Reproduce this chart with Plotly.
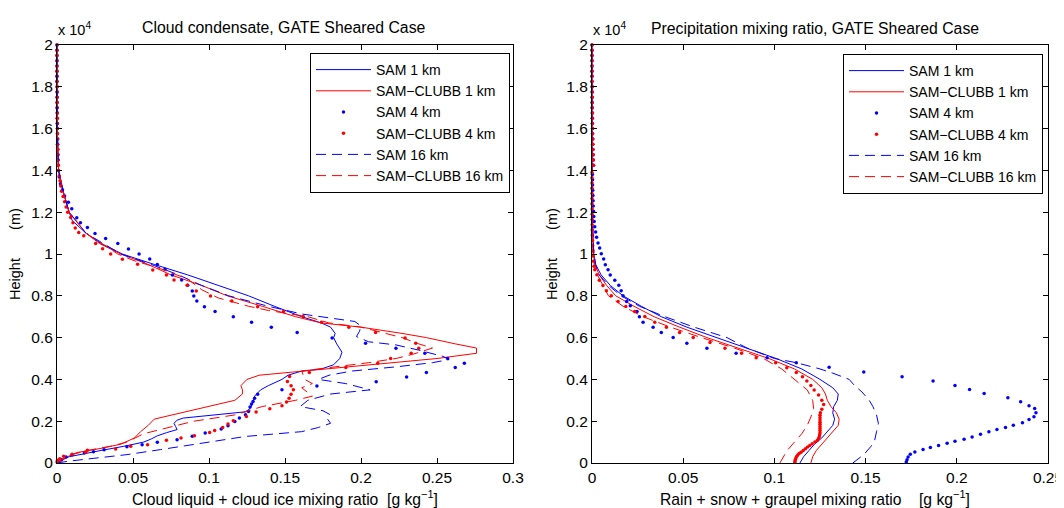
import plotly.graph_objects as go

# The page places the figure 8 px in from the top-left corner, so the figure is
# sized to the visible area and layout positions are given in window pixels.
OFF = 8
W, H = 1064 - OFF, 508 - OFF
FONT = "Liberation Sans, Arial, Helvetica, sans-serif"
BLUE = "#0000ff"
RED = "#ff0000"


def fx(p):
    return (p - OFF) / W


def fy(p):
    return 1 - (p - OFF) / H


# ---------------- tick labels ----------------
Y_TICKS = [0, 2000, 4000, 6000, 8000, 10000, 12000, 14000, 16000, 18000, 20000]
Y_LABELS = ["0", "0.2", "0.4", "0.6", "0.8", "1", "1.2", "1.4", "1.6", "1.8", "2"]
X1_TICKS = [0, 0.05, 0.1, 0.15, 0.2, 0.25, 0.3]
X1_LABELS = ["0", "0.05", "0.1", "0.15", "0.2", "0.25", "0.3"]
X2_TICKS = [0, 0.05, 0.1, 0.15, 0.2, 0.25]
X2_LABELS = ["0", "0.05", "0.1", "0.15", "0.2", "0.25"]

NAMES = ["SAM 1 km", "SAM\u2212CLUBB 1 km", "SAM 4 km", "SAM\u2212CLUBB 4 km",
         "SAM 16 km", "SAM\u2212CLUBB 16 km"]

# upper-level heights shared by dotted (4 km) series
TOP_H = [14250, 14500, 14750, 15000, 15250, 15500, 15750, 16000, 16250, 16500, 16750, 17000,
         17250, 17500, 17750, 18000, 18250, 18500, 18750, 19000, 19250, 19500, 19750, 20000]
TOP_V = [0.0008, 0.0007, 0.0006, 0.0005, 0.0004, 0.0004, 0.0003, 0.0003, 0.0002, 0.0002, 0.0002, 0.0001,
         0.0001, 0.0001, 0.0001, 0.0001, 0.0, 0.0, 0.0, 0.0, 0.0, 0.0, 0.0, 0.0]

# ---------------- left panel: cloud condensate ----------------
L_SAM1_H = [0, 150, 300, 450, 600, 800, 1000, 1150, 1300, 1450, 1600, 1750, 1900, 2050, 2150, 2450, 2600,
            2900, 3200, 3350, 3500, 3700, 4000, 4200, 4400, 4500, 4700, 5000, 5300, 5700, 6000, 6200,
            6500, 6700, 7000, 7500, 8000, 8500, 9000, 9500, 10000, 10500, 11000, 11600, 12000, 13000,
            14000, 15000, 16000, 20000]
L_SAM1_V = [0, 0.003, 0.008, 0.018, 0.029, 0.044, 0.057, 0.062, 0.066, 0.072, 0.079, 0.078, 0.077, 0.079,
            0.083, 0.124, 0.127, 0.129, 0.130, 0.132, 0.134, 0.139, 0.148, 0.152, 0.161, 0.174, 0.182,
            0.186, 0.1875, 0.184, 0.182, 0.183, 0.180, 0.174, 0.161, 0.143, 0.126, 0.106, 0.086, 0.064,
            0.043, 0.029, 0.019, 0.010, 0.008, 0.004, 0.001, 0.0005, 0.0002, 0]

L_CLUBB1_H = [0, 300, 500, 700, 900, 1200, 1500, 1800, 2100, 2400, 2700, 3000, 3300, 3500, 3700, 4000,
              4200, 4400, 4600, 4800, 5000, 5250, 5500, 5700, 6000, 6200, 6500, 6700, 7000, 7500, 8000,
              8500, 9000, 9500, 10000, 10500, 11000, 12000, 13000, 14000, 16000, 20000]
L_CLUBB1_V = [0.001, 0.007, 0.013, 0.029, 0.042, 0.051, 0.055, 0.060, 0.064, 0.081, 0.099, 0.117, 0.122,
              0.122, 0.121, 0.125, 0.133, 0.161, 0.194, 0.218, 0.250, 0.276, 0.276, 0.262, 0.243, 0.227,
              0.200, 0.174, 0.157, 0.135, 0.112, 0.095, 0.075, 0.060, 0.042, 0.028, 0.019, 0.008, 0.004,
              0.001, 0.0002, 0]

L_SAM4_H = [48, 159, 287, 398, 478, 541, 637, 780, 876, 987, 1115, 1274, 1433, 1624, 1783, 1990, 2150,
            2310, 2470, 2675, 2820, 2945, 3100, 3295, 3500, 3690, 3885, 4110, 4330, 4570, 4775, 5000,
            5250, 5490, 5730, 5985, 6240, 6500, 6735, 7000, 7245, 7480, 7750, 7990, 8230, 8500, 8755,
            9000, 9265, 9500, 9760, 10000, 10240, 10500, 10745, 10985, 11270, 11490, 11730, 12160,
            12480, 12780, 13070, 13360, 13680, 14000] + TOP_H
L_SAM4_V = [0.001, 0.003, 0.006, 0.010, 0.018, 0.024, 0.031, 0.046, 0.056, 0.066, 0.079, 0.089, 0.0975,
            0.108, 0.1125, 0.117, 0.120, 0.124, 0.126, 0.127, 0.128, 0.129, 0.130, 0.132, 0.148, 0.171,
            0.210, 0.230, 0.243, 0.262, 0.268, 0.257, 0.242, 0.223, 0.203, 0.181, 0.158, 0.141, 0.128,
            0.116, 0.104, 0.097, 0.092, 0.090, 0.089, 0.086, 0.082, 0.076, 0.071, 0.066, 0.061, 0.054,
            0.047, 0.040, 0.032, 0.025, 0.020, 0.0154, 0.013, 0.0097, 0.0075, 0.005, 0.0036, 0.0023,
            0.0015, 0.001] + TOP_V

L_CLUBB4_H = [48, 127, 207, 318, 414, 509, 605, 669, 796, 876, 1083, 1194, 1305, 1465, 1560, 1703, 1863,
              2022, 2229, 2436, 2590, 2738, 2913, 3104, 3295, 3502, 3693, 3900, 4139, 4330, 4569, 4776,
              4999, 5254, 5492, 5731, 5986, 6241, 6495, 6734, 7005, 7244, 7482, 7753, 7992, 8231, 8501,
              8756, 8995, 9234, 9504, 9743, 9998, 10250, 10507, 10873, 11033, 11250, 11500, 11750,
              12000, 12250, 12500, 12750, 13000, 13250, 13500, 13750, 14000] + TOP_H
L_CLUBB4_V = [0.0, 0.0004, 0.0018, 0.0044, 0.0099, 0.0188, 0.020, 0.0386, 0.0485, 0.0596, 0.072, 0.0816,
              0.0904, 0.1004, 0.1037, 0.109, 0.1125, 0.116, 0.1246, 0.131, 0.140, 0.148, 0.151, 0.1527,
              0.154, 0.1555, 0.154, 0.1516, 0.153, 0.166, 0.190, 0.211, 0.2195, 0.233, 0.238, 0.236,
              0.229, 0.2096, 0.192, 0.174, 0.162, 0.149, 0.132, 0.115, 0.101, 0.0916, 0.0856, 0.077,
              0.072, 0.063, 0.053, 0.043, 0.0353, 0.030, 0.0254, 0.0176, 0.0143, 0.012, 0.0105, 0.009,
              0.007, 0.006, 0.005, 0.004, 0.003, 0.0025, 0.002, 0.0015, 0.001] + TOP_V

L_SAM16_H = [0, 80, 190, 400, 640, 950, 1270, 1500, 1700, 1900, 2100, 2300, 2500, 2700, 3000, 3300, 3500,
             3800, 4000, 4200, 4400, 4600, 4800, 4950, 5100, 5400, 5650, 5800, 6050, 6300, 6550, 6770,
             7000, 7130, 7500, 8000, 8500, 9000, 9500, 10000, 11000, 12000, 13000, 14000, 16000, 20000]
L_SAM16_V = [0, 0.007, 0.020, 0.046, 0.068, 0.095, 0.124, 0.161, 0.172, 0.180, 0.178, 0.180, 0.175, 0.160,
             0.165, 0.180, 0.206, 0.190, 0.172, 0.179, 0.194, 0.223, 0.247, 0.258, 0.254, 0.238, 0.223,
             0.205, 0.197, 0.199, 0.200, 0.196, 0.174, 0.161, 0.139, 0.113, 0.095, 0.080, 0.062, 0.042,
             0.019, 0.008, 0.004, 0.001, 0.0002, 0]

L_CLUBB16_H = [0, 200, 400, 600, 800, 1000, 1400, 1700, 2000, 2300, 2500, 2700, 3000, 3200, 3600, 3800,
               4000, 4400, 4600, 4800, 5000, 5200, 5500, 5700, 6000, 6200, 6500, 6700, 7000, 7300, 7500,
               7900, 8300, 8800, 9300, 9700, 10000, 11000, 12000, 13000, 14000, 16000, 20000]
L_CLUBB16_V = [0, 0.004, 0.010, 0.020, 0.035, 0.046, 0.057, 0.073, 0.090, 0.117, 0.126, 0.135, 0.157,
               0.168, 0.161, 0.168, 0.163, 0.161, 0.183, 0.205, 0.223, 0.234, 0.247, 0.238, 0.227, 0.216,
               0.200, 0.179, 0.165, 0.139, 0.126, 0.106, 0.095, 0.086, 0.068, 0.050, 0.040, 0.019, 0.008,
               0.004, 0.001, 0.0002, 0]

# ---------------- right panel: precipitation ----------------
R_SAM1_H = [0, 300, 600, 900, 1200, 1500, 1800, 2100, 2400, 2700, 3000, 3300, 3600, 4000, 4500, 5000,
            5500, 6000, 6500, 7000, 7500, 8000, 8500, 9000, 9500, 10000, 11000, 12000, 20000]
R_SAM1_V = [0.114, 0.116, 0.119, 0.122, 0.126, 0.129, 0.132, 0.133, 0.132, 0.1325, 0.1345, 0.135, 0.132,
            0.125, 0.115, 0.101, 0.085, 0.068, 0.052, 0.038, 0.027, 0.017, 0.010, 0.005, 0.002, 0.001,
            0.0005, 0, 0]

R_CLUBB1_H = [0, 300, 600, 900, 1200, 1500, 1800, 2100, 2400, 2700, 3000, 3300, 3600, 4000, 4500, 5000,
              5500, 6000, 6500, 7000, 7500, 8000, 8500, 9000, 9500, 10000, 11000, 12000, 20000]
R_CLUBB1_V = [0.120, 0.121, 0.123, 0.126, 0.129, 0.132, 0.135, 0.1355, 0.134, 0.131, 0.129, 0.128, 0.126,
              0.121, 0.111, 0.097, 0.080, 0.063, 0.048, 0.034, 0.023, 0.013, 0.008, 0.004, 0.0015,
              0.0008, 0.0003, 0, 0]

R_SAM4_H = [48, 160, 288, 416, 528, 640, 736, 832, 944, 1040, 1136, 1250, 1380, 1490, 1600, 1700, 1810,
            1920, 2080, 2210, 2400, 2610, 2740, 2930, 3120, 3330, 3520, 3710, 3920, 4130, 4350, 4580,
            4800, 5040, 5250, 5490, 5730, 6000, 6240, 6500, 6740, 7000, 7250, 7520, 7730, 8000, 8240,
            8500, 8740, 8990, 9250, 9490, 9760, 10016, 10290, 10530, 10800, 11050, 11300, 11550, 11800,
            12050, 12300, 12550, 12800, 13050, 13300, 13550, 13800] + TOP_H
R_SAM4_V = [0.1723, 0.1727, 0.1733, 0.1745, 0.177, 0.1815, 0.1855, 0.190, 0.1947, 0.199, 0.204, 0.2084,
            0.213, 0.2176, 0.222, 0.2267, 0.231, 0.236, 0.2396, 0.2423, 0.2434, 0.2427, 0.2396, 0.235,
            0.228, 0.215, 0.207, 0.199, 0.187, 0.170, 0.149, 0.130, 0.112, 0.096, 0.079, 0.063, 0.052,
            0.0445, 0.038, 0.0335, 0.028, 0.026, 0.0247, 0.021, 0.019, 0.017, 0.016, 0.0147, 0.0125,
            0.010, 0.0088, 0.0073, 0.0064, 0.0051, 0.0042, 0.0033, 0.0025, 0.002, 0.0015, 0.0012, 0.001,
            0.0008, 0.0007, 0.0006, 0.0005, 0.0004, 0.0003, 0.0003, 0.0002] + TOP_V

R_CLUBB4_H = [30, 100, 170, 240, 310, 380, 450, 520, 600, 680, 760, 840, 920, 1000, 1080, 1170, 1260,
              1350, 1450, 1550, 1650, 1750, 1850, 1950, 2060, 2170, 2280, 2400, 2576, 2800, 3008, 3248,
              3488, 3712, 3920, 4128, 4336, 4560, 4800, 5040, 5248, 5488, 5760, 6000, 6240, 6496, 6736,
              7008, 7248, 7488, 7728, 8000, 8240, 8496, 8750, 9008, 9250, 9410, 9650, 9900, 10150,
              10400, 10650, 10900, 11150, 11400, 11650, 11900, 12150, 12400, 12650, 12900, 13150, 13400,
              13650, 13900] + TOP_H
R_CLUBB4_V = [0.1112, 0.1113, 0.1115, 0.1118, 0.1122, 0.1128, 0.1136, 0.1146, 0.1158, 0.117, 0.1182,
              0.1194, 0.1207, 0.1222, 0.1235, 0.1242, 0.1246, 0.1248, 0.125, 0.125, 0.125, 0.125, 0.125,
              0.125, 0.125, 0.125, 0.125, 0.1252, 0.126, 0.127, 0.126, 0.1242, 0.1218, 0.120, 0.1178,
              0.1154, 0.112, 0.1068, 0.1007, 0.090, 0.082, 0.0729, 0.0647, 0.0555, 0.048, 0.0408, 0.0344,
              0.029, 0.0234, 0.0185, 0.0143, 0.0106, 0.0079, 0.006, 0.004, 0.0027, 0.0015, 0.0011,
              0.0008, 0.0006, 0.0005, 0.0004, 0.0003, 0.0002, 0.0001, 0.0001, 0.0001, 0.0001, 0.0001,
              0.0, 0.0, 0.0, 0.0, 0.0, 0.0, 0.0] + TOP_V

R_SAM16_H = [0, 400, 800, 1100, 1500, 1900, 2300, 2700, 3000, 3400, 3700, 4000, 4300, 4500, 4800, 5000,
             5500, 6000, 6500, 7000, 7500, 8000, 8500, 9000, 9500, 10000, 11000, 12000, 20000]
R_SAM16_V = [0.143, 0.149, 0.153, 0.155, 0.156, 0.157, 0.156, 0.154, 0.152, 0.148, 0.144, 0.141, 0.132,
             0.125, 0.112, 0.100, 0.085, 0.074, 0.056, 0.040, 0.026, 0.016, 0.009, 0.004, 0.002, 0.001,
             0.0005, 0, 0]

R_CLUBB16_H = [0, 300, 600, 1000, 1400, 1800, 2200, 2600, 3000, 3500, 4000, 4500, 5000, 5500, 6000,
               6500, 7000, 7500, 8000, 8500, 9000, 9500, 10000, 11000, 12000, 20000]
R_CLUBB16_V = [0.103, 0.105, 0.107, 0.111, 0.115, 0.118, 0.120, 0.1215, 0.121, 0.118, 0.111, 0.104,
               0.094, 0.078, 0.060, 0.043, 0.028, 0.017, 0.009, 0.006, 0.003, 0.0012, 0.0005, 0.0002,
               0, 0]

LEFT = [(L_SAM1_V, L_SAM1_H), (L_CLUBB1_V, L_CLUBB1_H), (L_SAM4_V, L_SAM4_H),
        (L_CLUBB4_V, L_CLUBB4_H), (L_SAM16_V, L_SAM16_H), (L_CLUBB16_V, L_CLUBB16_H)]
RIGHT = [(R_SAM1_V, R_SAM1_H), (R_CLUBB1_V, R_CLUBB1_H), (R_SAM4_V, R_SAM4_H),
         (R_CLUBB4_V, R_CLUBB4_H), (R_SAM16_V, R_SAM16_H), (R_CLUBB16_V, R_CLUBB16_H)]
for v, h in LEFT + RIGHT:
    assert len(v) == len(h), (len(v), len(h))

STYLES = [
    dict(mode="lines", line=dict(color=BLUE, width=1)),
    dict(mode="lines", line=dict(color=RED, width=1)),
    dict(mode="markers", marker=dict(color=BLUE, size=3.5)),
    dict(mode="markers", marker=dict(color=RED, size=3.5)),
    dict(mode="lines", line=dict(color=BLUE, width=1, dash="10px,6px")),
    dict(mode="lines", line=dict(color=RED, width=1, dash="10px,6px")),
]

fig = go.Figure()
for (v, h), name, st in zip(LEFT, NAMES, STYLES):
    fig.add_trace(go.Scatter(x=v, y=h, name=name, xaxis="x", yaxis="y", legend="legend",
                             cliponaxis=False, **st))
for (v, h), name, st in zip(RIGHT, NAMES, STYLES):
    fig.add_trace(go.Scatter(x=v, y=h, name=name, xaxis="x2", yaxis="y2", legend="legend2",
                             cliponaxis=False, **st))

ax_common = dict(showline=True, linecolor="black", linewidth=1, mirror="ticks", ticks="inside",
                 ticklen=5, tickcolor="black", tickwidth=1, showgrid=False, zeroline=False,
                 automargin=False,
                 tickfont=dict(family=FONT, size=15.5, color="black"), fixedrange=True)
YDOM = [fy(463), fy(45)]

leg_common = dict(bordercolor="black", borderwidth=1, bgcolor="white", yanchor="top",
                  xanchor="right", font=dict(family=FONT, size=14, color="black"),
                  tracegroupgap=0, itemwidth=55)

fig.update_layout(
    width=W, height=H, autosize=False,
    margin=dict(l=0, r=0, t=0, b=0, pad=0, autoexpand=False),
    paper_bgcolor="white", plot_bgcolor="white",
    font=dict(family=FONT, color="black"),
    xaxis=dict(domain=[fx(57), fx(513)], range=[0, 0.3], tickvals=X1_TICKS, ticktext=X1_LABELS,
               anchor="y", **ax_common),
    yaxis=dict(domain=YDOM, range=[0, 20000], tickvals=Y_TICKS, ticktext=Y_LABELS, anchor="x",
               **ax_common),
    xaxis2=dict(domain=[fx(592), fx(1048)], range=[0, 0.25], tickvals=X2_TICKS, ticktext=X2_LABELS,
                anchor="y2", **ax_common),
    yaxis2=dict(domain=YDOM, range=[0, 20000], tickvals=Y_TICKS, ticktext=Y_LABELS, anchor="x2",
                **ax_common),
    legend=dict(x=fx(510), y=fy(53), **leg_common),
    legend2=dict(x=fx(1043), y=fy(54), **leg_common),
    showlegend=True,
)

NB = "\u00a0"
ann = [
    dict(text="Cloud condensate, GATE Sheared Case", x=fx(284), y=fy(27), size=15.8),
    dict(text="Precipitation mixing ratio, GATE Sheared Case", x=fx(815), y=fy(28), size=15.8),
    dict(text="Cloud liquid + cloud ice mixing ratio" + NB * 2 + "[g kg<sup>\u22121</sup>]",
         x=fx(285), y=fy(498), size=15.7),
    dict(text="Rain + snow + graupel mixing ratio" + NB * 4 + "[g kg<sup>\u22121</sup>]",
         x=fx(815), y=fy(498), size=15.7),
]
for a in ann:
    fig.add_annotation(text=a["text"], x=a["x"], y=a["y"], xref="paper", yref="paper",
                       xanchor="center", yanchor="middle", showarrow=False,
                       font=dict(family=FONT, size=a["size"], color="black"))
for xp in (15, 552):
    fig.add_annotation(text="Height" + NB * 7 + "(m)", x=fx(xp), y=fy(254), xref="paper",
                       yref="paper", xanchor="center", yanchor="middle", textangle=-90,
                       showarrow=False, font=dict(family=FONT, size=14.5, color="black"))
for xp in (56, 591):
    fig.add_annotation(text="x 10<sup>4</sup>", x=fx(xp), y=fy(40), xref="paper", yref="paper",
                       xanchor="left", yanchor="bottom", showarrow=False,
                       font=dict(family=FONT, size=14.5, color="black"))

fig.write_html("out.html")
